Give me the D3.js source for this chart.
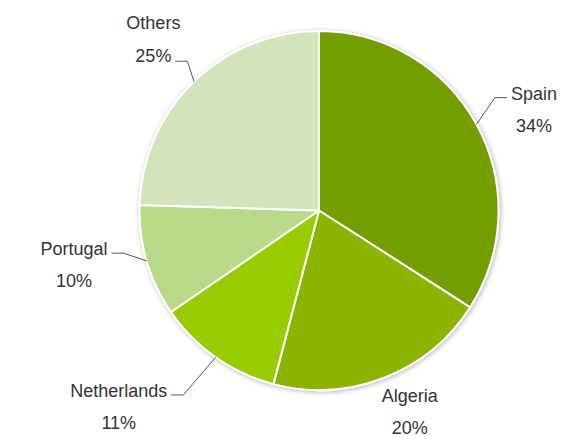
<!DOCTYPE html>
<html>
<head>
<meta charset="utf-8">
<script src="https://cdn.jsdelivr.net/npm/d3@7"></script>
<style>
  html, body { margin: 0; padding: 0; background: #fff; }
  svg { display: block; }
  text { font-family: "Liberation Sans", Arial, sans-serif; font-size: 18px; fill: #333; }
</style>
</head>
<body>
<svg id="chart" width="561" height="439"></svg>
<script>
// ---- data ----
const categories = ["Spain", "Algeria", "Netherlands", "Portugal", "Others"];
const values = [34.2, 20.1, 11.4, 10.1, 24.6];
const percentLabels = ["34%", "20%", "11%", "10%", "25%"];
const colors = ["#739e00", "#8ab400", "#99cc00", "#b8d98a", "#d1e4bb"];

// ---- layout (not data) ----
const W = 561, H = 439;
const cx = 319, cy = 210.5, R = 179.5;
const labelLayout = [
  { line: true,  elbowR: 209, elbowDA: -4.0, side:  1, attach: "name" },
  { line: false, anchorR: 212, anchorDA: -4.0 },
  { line: true,  elbowR: 229, elbowDA:  1.2, side: -1, attach: "name" },
  { line: true,  elbowR: 200, elbowDA:  4.0, side: -1, attach: "name" },
  { line: true,  elbowR: 199, elbowDA:  2.7, side: -1, attach: "pct" }
];
const segLen = 12, gap = 4, lineGap = 32;

const svg = d3.select("#chart");
const defs = svg.append("defs");
const f = defs.append("filter").attr("id", "shadow")
  .attr("x", "-10%").attr("y", "-10%").attr("width", "120%").attr("height", "120%");
f.append("feDropShadow").attr("dx", 1).attr("dy", 1).attr("stdDeviation", 2.5)
  .attr("flood-color", "#000").attr("flood-opacity", 0.3);

const rows = categories.map((c, i) => ({ name: c, value: values[i], pct: percentLabels[i], color: colors[i], i }));
const pie = d3.pie().sort(null).value(d => d.value);
const arcs = pie(rows);
const arc = d3.arc().innerRadius(0).outerRadius(R);

const g = svg.append("g").attr("transform", `translate(${cx},${cy})`);
const slices = g.append("g").attr("filter", "url(#shadow)");
slices.selectAll("path").data(arcs).join("path")
  .attr("d", arc)
  .attr("fill", d => d.data.color)
  .attr("stroke", "#fff")
  .attr("stroke-width", 2)
  .attr("stroke-linejoin", "round");

function polar(angleRad, r) {
  return [r * Math.sin(angleRad), -r * Math.cos(angleRad)];
}
const deg = Math.PI / 180;

const labels = g.append("g");
arcs.forEach((a, i) => {
  const L = labelLayout[i];
  const mid = (a.startAngle + a.endAngle) / 2;
  if (!L.line) {
    const p = polar(mid + L.anchorDA * deg, L.anchorR);
    labels.append("text").attr("x", p[0]).attr("y", p[1]).attr("text-anchor", "middle").text(a.data.name);
    labels.append("text").attr("x", p[0]).attr("y", p[1] + lineGap).attr("text-anchor", "middle").text(a.data.pct);
    return;
  }
  const s = polar(mid, R);
  const e = polar(mid + L.elbowDA * deg, L.elbowR);
  const end = [e[0] + L.side * segLen, e[1]];
  labels.append("polyline")
    .attr("points", [s, e, end].map(p => p.join(",")).join(" "))
    .attr("fill", "none").attr("stroke", "#555").attr("stroke-width", 1);

  const nameT = labels.append("text").attr("text-anchor", "middle").text(a.data.name);
  const pctT = labels.append("text").attr("text-anchor", "middle").text(a.data.pct);
  const attached = L.attach === "name" ? nameT : pctT;
  const w = attached.node().getComputedTextLength();
  const tx = end[0] + L.side * (gap + w / 2);
  let nameY, pctY;
  if (L.attach === "name") { nameY = end[1] + 2; pctY = nameY + lineGap; }
  else { pctY = end[1] + 1; nameY = pctY - lineGap - 1; }
  nameT.attr("x", tx).attr("y", nameY);
  pctT.attr("x", tx).attr("y", pctY);
});
</script>
</body>
</html>
